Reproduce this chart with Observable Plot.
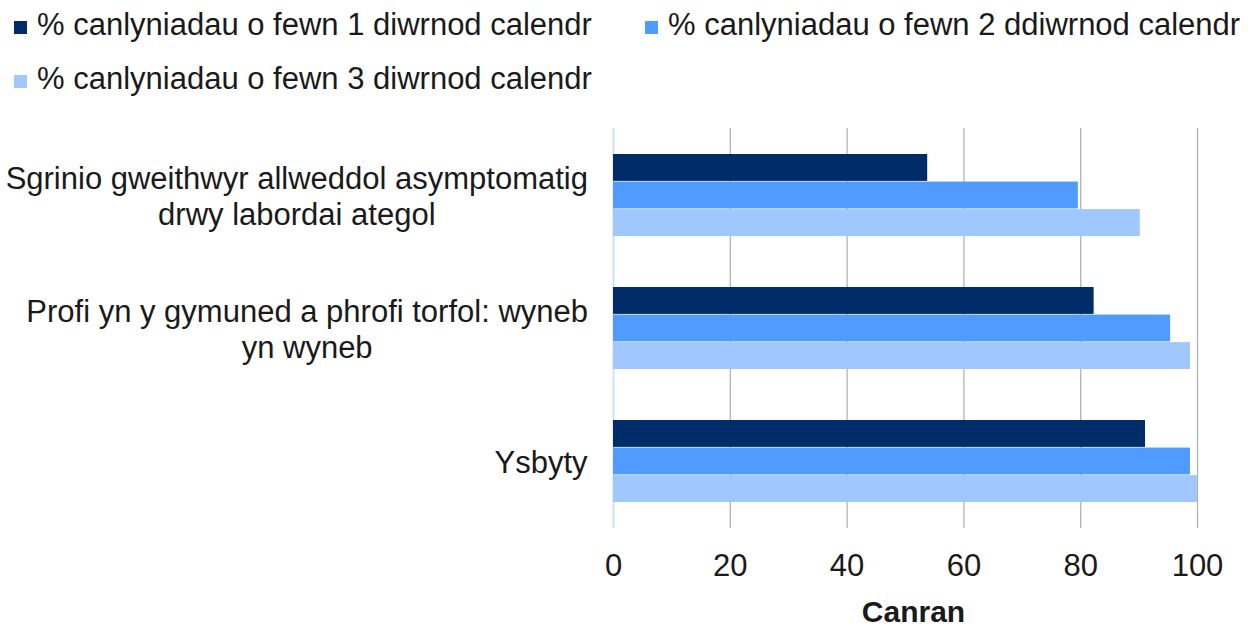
<!DOCTYPE html>
<html><head><meta charset="utf-8">
<script src="https://cdn.jsdelivr.net/npm/d3@7"></script>
<script src="https://cdn.jsdelivr.net/npm/@observablehq/plot@0.6"></script>
<style>
html,body{margin:0;padding:0;background:#fff;}
body{font-family:"Liberation Sans",Arial,sans-serif;color:#1a1a1a;width:1250px;height:627px;overflow:hidden;}
#legend{display:grid;grid-template-columns:631px auto;grid-auto-rows:36px;row-gap:18px;padding:7px 0 0 14px;height:103px;font-size:31px;line-height:36px;}
.item{white-space:nowrap;}
.sw{display:inline-block;width:13px;height:13px;margin-right:10px;margin-bottom:1px;vertical-align:baseline;}
#chart svg{display:block;}
</style></head><body>
<div id="legend"></div>
<div id="chart"></div>
<script>
const categories = [
  "Sgrinio gweithwyr allweddol asymptomatig\ndrwy labordai ategol",
  "Profi yn y gymuned a phrofi torfol: wyneb\nyn wyneb",
  "Ysbyty"
];
const seriesNames = [
  "% canlyniadau o fewn 1 diwrnod calendr",
  "% canlyniadau o fewn 2 ddiwrnod calendr",
  "% canlyniadau o fewn 3 diwrnod calendr"
];
const within1Day = [53.8, 82.3, 91.1];
const within2Days = [79.6, 95.4, 98.8];
const within3Days = [90.2, 98.8, 100];
const xTicks = [0, 20, 40, 60, 80, 100];
const axisTitle = "Canran";
const colors = ["#002d69", "#4f9bff", "#a1c7ff"];

const seriesValues = [within1Day, within2Days, within3Days];
const data = categories.flatMap((c, i) =>
  seriesNames.map((s, j) => ({category: c, series: s, index: j, value: seriesValues[j][i]})));

// legend
const legend = document.getElementById("legend");
seriesNames.forEach((s, j) => {
  const it = document.createElement("div");
  it.className = "item";
  const sw = document.createElement("span");
  sw.className = "sw";
  sw.style.background = colors[j];
  it.appendChild(sw);
  it.appendChild(document.createTextNode(s));
  legend.appendChild(it);
});

const W = 1250, H = 517, mT = 18, mB = 99, mL = 613, mR = 53;
const padIn = 0.38, padOut = 0.19;
const plotH = H - mT - mB;
const step = plotH / (categories.length - padIn + 2 * padOut);
const bw = step * (1 - padIn);
const third = bw / 3;

const marks = [
  Plot.gridX(xTicks, {stroke: "#b3b3b3", strokeOpacity: 1, strokeWidth: 1.3}),
  Plot.ruleX([0], {stroke: "#cfe0ff", strokeWidth: 1.5}),
  ...seriesNames.map((s, j) => Plot.barX(data.filter(d => d.index === j), {
    x: "value", y: "category", fill: "series",
    insetTop: j * third, insetBottom: (2 - j) * third
  })),
  Plot.axisX({ticks: xTicks, tickSize: 0, tickPadding: 25, fontSize: 31, fill: "#1a1a1a", label: null}),
  Plot.text(categories, {y: d => d, text: d => d, frameAnchor: "left", textAnchor: "middle", dx: -320, lineHeight: 1.17, fontSize: 31, fill: "#1a1a1a"}),
  Plot.text([axisTitle], {frameAnchor: "bottom", dy: 93, dx: 8, text: d => d, fontWeight: "bold", fontSize: 30, fill: "#1a1a1a"})
];

const chart = Plot.plot({
  width: W, height: H,
  marginTop: mT, marginBottom: mB, marginLeft: mL, marginRight: mR,
  style: {fontFamily: "'Liberation Sans', Arial, sans-serif", fontSize: "31px", color: "#1a1a1a", background: "#fff", overflow: "visible"},
  x: {domain: [0, 100], axis: null, label: null},
  y: {domain: categories, axis: null, paddingInner: padIn, paddingOuter: padOut},
  color: {domain: seriesNames, range: colors},
  marks
});
document.getElementById("chart").appendChild(chart);

// align each category label block so its right edge sits just left of the plot
const svgRect = chart.getBoundingClientRect();
const targetRight = svgRect.left + mL - 25;
chart.querySelectorAll("g[aria-label='text'] text").forEach(t => {
  if (!categories.some(c => c.replace("\n", "") === t.textContent || c === t.textContent)) return;
  const r = t.getBoundingClientRect();
  const shift = targetRight - r.right;
  t.setAttribute("transform", (t.getAttribute("transform") || "") + ` translate(${shift},0)`);
});
</script>
</body></html>
